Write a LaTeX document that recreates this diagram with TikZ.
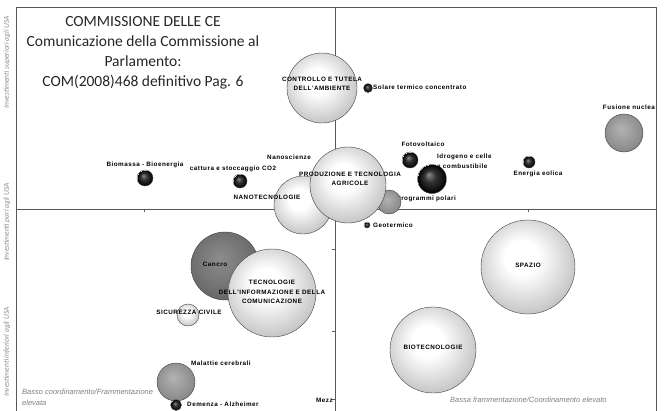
\documentclass[tikz,border=0pt]{standalone}
\usepackage{fontspec}
\setmainfont{Carlito}
\newfontfamily\arialfamily{Liberation Sans}
\newfontfamily\widefamily[LetterSpace=8]{Liberation Sans}
\usetikzlibrary{positioning}
\pgfdeclareradialshading{lightball}{\pgfpoint{-4bp}{6bp}}{color(0bp)=(white);color(9bp)=(white);color(24bp)=(black!18);color(40bp)=(black!38);color(50bp)=(black!58)}
\pgfdeclareradialshading{midball}{\pgfpoint{-4bp}{6bp}}{color(0bp)=(black!30);color(25bp)=(black!45);color(50bp)=(black!70)}
\pgfdeclareradialshading{darkball}{\pgfpoint{-4bp}{6bp}}{color(0bp)=(black!45);color(25bp)=(black!58);color(50bp)=(black!78)}
\pgfdeclareradialshading{blackball}{\pgfpoint{-6bp}{8bp}}{color(0bp)=(black!45);color(10bp)=(black!80);color(25bp)=(black)}
\newcommand{\lblfont}{\widefamily\bfseries\fontsize{6.3}{9.5}\selectfont}
\newcommand{\drawball}[2]{\node[draw=black!75,circle,inner sep=0,minimum size=#2,shading=#1]}
\newcommand{\drawlabel}{\node[inner sep=0,font=\lblfont]}

\begin{document}
\begin{tikzpicture}[x=1pt,y=-1pt, line width=0.4pt,
  frame/.style={black!65, line width=0.9pt},
  grey/.style={inner sep=0, text=black!50, font=\arialfamily\itshape\fontsize{7.5}{11}\selectfont},
  axis/.style={inner sep=0, text=black!45, rotate=90, font=\itshape\fontsize{7.5}{8}\selectfont}]
\clip (0,0) rectangle (669,410);
%quadrants
\draw[frame] (16,7) rectangle (656,430);
\draw[frame] (16,209) -- (656,209);
\draw[frame] (335,7) -- (335,430);
\draw[frame] (144,209) -- (144,212);
\draw[frame] (528,209) -- (528,212);
\draw[frame] (335,249) -- (332,249);
\draw[frame] (335,331) -- (332,331);
\draw[frame] (335,399) -- (332,399);

\node[align=center, inner sep=0, text=black!85, font=\fontsize{15.5}{20}\selectfont] (title) at (143,53)
  {COMMISSIONE DELLE CE\\Comunicazione della Commissione al\\Parlamento:\\COM(2008)468 definitivo Pag. 6};

\node[axis] (sup) at (7,62) {Investimenti superiori agli USA};
\node[axis] (pari) at (7,222) {Investimenti pari agli USA};
\node[axis] (inf) at (7,352) {Investimenti inferiori agli USA};

%upper half
\drawball{lightball}{70pt} (ambiente) at (322,88) {};
\drawball{blackball}{9pt} (solare) at (368,88) {};
\drawball{midball}{38pt} (fusione) at (624,133) {};
\drawball{blackball}{16pt} (biomassa) at (145,178) {};
\drawball{blackball}{14pt} (cattura) at (240,181) {};
\drawball{lightball}{58pt} (nanotec) at (303,205) {};
\drawlabel[anchor=east] (polariL) at (456,199) {Programmi polari};
\drawball{midball}{24pt} (polari) at (389,202) {};
\drawball{lightball}{76pt} (agricole) at (348,185) {};
\drawball{blackball}{16pt} (fotovoltaico) at (410,160) {};
\drawlabel[anchor=north west, align=left] (idrogenoL) at (437,154) {Idrogeno e celle\\a combustibile};
\drawball{blackball}{29pt} (idrogeno) at (432,179) {};
\drawball{blackball}{12pt} (eolica) at (529,162) {};
\drawball{blackball}{6pt} (geotermico) at (367,225) {};

%lower half
\drawball{darkball}{68pt} (cancro) at (225,266) {};
\drawball{lightball}{88pt} (tic) at (272,293) {};
\drawball{lightball}{22pt} (sicurezza) at (188,315) {};
\drawball{lightball}{94pt} (spazio) at (528,267) {};
\drawball{lightball}{86pt} (biotec) at (433,350) {};
\drawball{midball}{38pt} (malattie) at (176,382) {};
\drawball{blackball}{11pt} (demenza) at (176,405) {};

%labels
\drawlabel[align=center] (ambienteL) at (322,84) {CONTROLLO E TUTELA\\DELL'AMBIENTE};
\drawlabel[anchor=west] (solareL) at (373,87) {Solare termico concentrato};
\drawlabel[anchor=east] (fusioneL) at (655,107) {Fusione nuclea};
\drawlabel (fotovoltaicoL) at (423,144) {Fotovoltaico};
\drawlabel (eolicaL) at (538,174) {Energia eolica};
\drawlabel[anchor=west] (geotermicoL) at (373,225) {Geotermico};
\drawlabel (biomassaL) at (145,165) {Biomassa - Bioenergia};
\drawlabel (catturaL) at (233,169) {cattura e stoccaggio CO2};
\drawlabel (nanoscienzeL) at (289,157) {Nanoscienze};
\drawlabel (nanotecL) at (267,197) {NANOTECNOLOGIE};
\drawlabel[align=center] (agricoleL) at (350,179) {PRODUZIONE E TECNOLOGIA\\AGRICOLE};
\drawlabel (cancroL) at (215,264) {Cancro};
\drawlabel[align=center] (ticL) at (272,292) {TECNOLOGIE\\DELL'INFORMAZIONE E DELLA\\COMUNICAZIONE};
\drawlabel (sicurezzaL) at (189,312) {SICUREZZA CIVILE};
\drawlabel (spazioL) at (528,265) {SPAZIO};
\drawlabel (biotecL) at (433,347) {BIOTECNOLOGIE};
\drawlabel[anchor=west] (malattieL) at (191,363) {Malattie cerebrali};
\drawlabel[anchor=west] (demenzaL) at (187,404) {Demenza - Alzheimer};
\drawlabel[anchor=east] (mezzL) at (333,400) {Mezz};

\node[grey, anchor=north west, align=left] (bassoL) at (22,389) {Basso coordinamento/Frammentazione\\elevata};
\node[grey, anchor=west] (bassaL) at (450,400) {Bassa frammentazione/Coordinamento elevato};
\end{tikzpicture}
\end{document}
